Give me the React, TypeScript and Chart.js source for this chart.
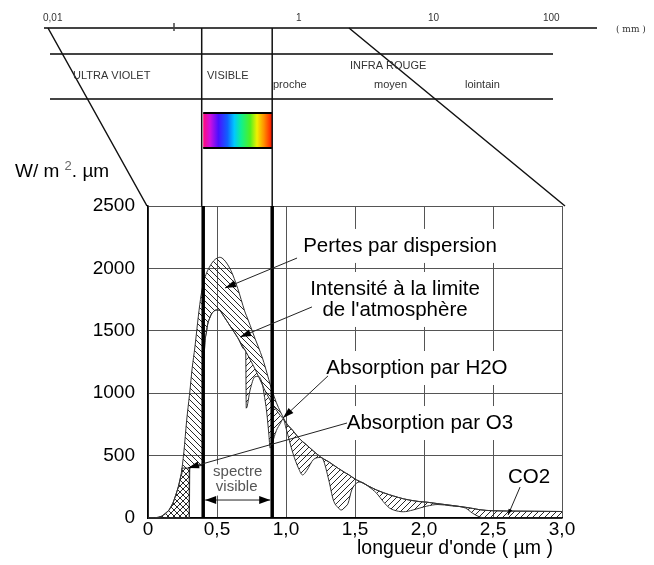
import { useEffect, useRef } from 'react';
import { Chart, registerables } from 'chart.js';

Chart.register(...registerables);

// ---- data (µm, W/m².µm) ----
const wavelengths = [0, 0.05, 0.1, 0.15, 0.18, 0.2, 0.22, 0.24, 0.26, 0.28, 0.3, 0.302, 0.32, 0.34, 0.36, 0.38, 0.395, 0.405, 0.425, 0.45, 0.475, 0.5, 0.52, 0.55, 0.6, 0.65, 0.7, 0.708, 0.712, 0.74, 0.775, 0.8, 0.83, 0.84, 0.86, 0.875, 0.885, 0.9, 0.93, 0.96, 0.98, 1.0, 1.05, 1.09, 1.12, 1.15, 1.2, 1.25, 1.27, 1.31, 1.343, 1.38, 1.4, 1.43, 1.45, 1.476, 1.51, 1.54, 1.6, 1.657, 1.705, 1.75, 1.78, 1.85, 1.92, 1.97, 2.02, 2.1, 2.2, 2.3, 2.35, 2.4, 2.45, 2.5, 2.6, 2.7, 2.8, 2.9, 3.0];

// Intensité à la limite de l'atmosphère
const extraterrestrial = [0, 0, 15, 60, 118, 180, 251, 350, 530, 780, 980, 1000, 1200, 1370, 1570, 1750, 1850, 1900, 1965, 2020, 2060, 2082, 2089, 2070, 1985, 1840, 1660, 1635, 1625, 1545, 1440, 1370, 1280, 1245, 1170, 1110, 1070, 1020, 925, 850, 805, 765, 700, 645, 612, 585, 535, 490, 475, 450, 425, 397, 383, 362, 350, 330, 306, 290, 255, 224, 203, 186, 176, 154, 139, 131, 127, 115, 101, 86, 77, 67, 61, 58, 56, 55, 54, 53, 52];

// après pertes par dispersion
const afterScattering = [0, 0, 0, 0, 0, 0, 0, 0, 0, 0, 0, 400, 405, 410, 415, 420, 430, 1200, 1500, 1610, 1655, 1667, 1662, 1615, 1530, 1445, 1350, 1335, 1328, 1270, 1195, 1135, 1065, 1040, 995, 965, 945, 915, 865, 820, 795, 760, 700, 645, 612, 585, 535, 490, 475, 450, 425, 397, 383, 362, 350, 330, 306, 290, 255, 224, 203, 186, 176, 154, 139, 131, 127, 115, 101, 86, 77, 67, 61, 58, 56, 55, 54, 53, 52];

// au niveau du sol (après absorption)
const seaLevel = [0, 0, 0, 0, 0, 0, 0, 0, 0, 0, 0, 400, 405, 410, 415, 420, 430, 1200, 1500, 1610, 1655, 1667, 1662, 1615, 1530, 1445, 1350, 1335, 880, 1026, 1132, 1135, 1065, 1000, 850, 680, 560, 600, 700, 760, 795, 720, 520, 400, 345, 380, 470, 485, 465, 304, 144, 80, 64, 90, 118, 224, 278, 288, 250, 198, 131, 80, 64, 50, 64, 80, 95, 108, 97, 80, 40, 10, 0, 0, 0, 0, 0, 0, 0];

// absorption UV par O3 (zone quadrillée)
const uvWavelengths = [0, 0.05, 0.1, 0.15, 0.18, 0.2, 0.22, 0.24, 0.246, 0.3, 0.3];
const uvAbsorption = [0, 0, 15, 60, 118, 180, 251, 350, 400, 400, 0];

const xTickLabels = ['0', '0,5', '1,0', '1,5', '2,0', '2,5', '3,0'];
const yTickLabels = ['0', '500', '1000', '1500', '2000', '2500'];
const visibleRange = [0.4, 0.9];

const topScaleLabels = ['0,01', '1', '10', '100'];
const bandNames = ['ULTRA VIOLET', 'VISIBLE', 'INFRA ROUGE'];
const irSubBands = ['proche', 'moyen', 'lointain'];

// annotation texts (position in data units)
const annotationTexts = ['Pertes par dispersion', 'Intensité à la limite', "de l'atmosphère", 'Absorption par H2O', 'Absorption par O3', 'CO2'];
const annotationX = [1.826, 1.79, 1.79, 1.949, 2.043, 2.761];
const annotationY = [2180, 1835, 1667, 1202, 761, 329];
// arrows: from (x1,y1) to (x2,y2) in data units
const arrowFrom = [[1.08, 2083], [1.188, 1691], [1.304, 1138], [1.442, 761], [2.696, 248]];
const arrowTo = [[0.558, 1843], [0.667, 1450], [0.978, 801], [0.29, 401], [2.609, 24]];

const FONT = "'Liberation Sans', Arial, sans-serif";

function makeHatch(dir: 'back' | 'fwd'): CanvasPattern {
  const s = 6;
  const c = document.createElement('canvas');
  c.width = s;
  c.height = s;
  const g = c.getContext('2d')!;
  g.strokeStyle = '#111';
  g.lineWidth = 0.9;
  g.beginPath();
  for (let k = -1; k <= 1; k++) {
    if (dir === 'back') {
      g.moveTo(k * s, 0);
      g.lineTo(k * s + s, s);
    } else {
      g.moveTo(k * s, s);
      g.lineTo(k * s + s, 0);
    }
  }
  g.stroke();
  return g.createPattern(c, 'repeat')!;
}

function drawArrowHead(ctx: CanvasRenderingContext2D, x1: number, y1: number, x2: number, y2: number, len = 10, hw = 3.5) {
  const a = Math.atan2(y2 - y1, x2 - x1);
  ctx.beginPath();
  ctx.moveTo(x2, y2);
  ctx.lineTo(x2 - len * Math.cos(a) + hw * Math.sin(a), y2 - len * Math.sin(a) - hw * Math.cos(a));
  ctx.lineTo(x2 - len * Math.cos(a) - hw * Math.sin(a), y2 - len * Math.sin(a) + hw * Math.cos(a));
  ctx.closePath();
  ctx.fill();
}

const decorPlugin = {
  id: 'decor',
  beforeDraw(chart: any) {
    const ctx = chart.ctx;
    ctx.save();
    ctx.fillStyle = '#fff';
    ctx.fillRect(0, 0, chart.width, chart.height);
    ctx.restore();
  },
  afterDatasetsDraw(chart: any) {
    const ctx: CanvasRenderingContext2D = chart.ctx;
    const xs = chart.scales.x;
    const ys = chart.scales.y;
    const area = chart.chartArea;
    const px = (v: number) => xs.getPixelForValue(v);
    const py = (v: number) => ys.getPixelForValue(v);
    ctx.save();

    // thick lines for visible spectrum
    ctx.strokeStyle = '#000';
    ctx.lineWidth = 3.5;
    for (const v of visibleRange) {
      ctx.beginPath();
      ctx.moveTo(px(v), area.top);
      ctx.lineTo(px(v), area.bottom);
      ctx.stroke();
    }

    // white boxes behind texts
    ctx.font = `20.5px ${FONT}`;
    for (let i = 0; i < annotationTexts.length; i++) {
      const w = ctx.measureText(annotationTexts[i]).width;
      ctx.fillStyle = '#fff';
      const h = i === 5 ? 24 : 34;
      ctx.fillRect(px(annotationX[i]) - w / 2 - 4, py(annotationY[i]) - h / 2, w + 8, h);
    }
    const sx = (px(visibleRange[0]) + px(visibleRange[1])) / 2;
    ctx.fillRect(sx - 26, py(430), 52, py(180) - py(430));

    // texts
    ctx.fillStyle = '#000';
    ctx.textAlign = 'center';
    ctx.textBaseline = 'middle';
    ctx.font = `20.5px ${FONT}`;
    for (let i = 0; i < annotationTexts.length; i++) {
      ctx.fillText(annotationTexts[i], px(annotationX[i]), py(annotationY[i]));
    }
    ctx.fillStyle = '#555';
    ctx.font = `15px ${FONT}`;
    ctx.fillText('spectre', sx, py(369));
    ctx.fillText('visible', sx - 1, py(248));

    // arrows
    ctx.strokeStyle = '#222';
    ctx.fillStyle = '#000';
    ctx.lineWidth = 1;
    for (let i = 0; i < arrowFrom.length; i++) {
      const x1 = px(arrowFrom[i][0]), y1 = py(arrowFrom[i][1]);
      const x2 = px(arrowTo[i][0]), y2 = py(arrowTo[i][1]);
      ctx.beginPath();
      ctx.moveTo(x1, y1);
      ctx.lineTo(x2, y2);
      ctx.stroke();
      drawArrowHead(ctx, x1, y1, x2, y2, i === 4 ? 6 : 11, i === 4 ? 2 : 3.5);
    }
    // double arrow for the visible spectrum
    const ya = py(144);
    const xa1 = px(visibleRange[0]) + 2, xa2 = px(visibleRange[1]) - 2;
    ctx.beginPath();
    ctx.moveTo(xa1, ya);
    ctx.lineTo(xa2, ya);
    ctx.stroke();
    drawArrowHead(ctx, xa2, ya, xa1, ya, 11, 4);
    drawArrowHead(ctx, xa1, ya, xa2, ya, 11, 4);

    ctx.restore();
  },
  afterDraw(chart: any) {
    const ctx: CanvasRenderingContext2D = chart.ctx;
    const xs = chart.scales.x;
    const area = chart.chartArea;
    const xv1 = xs.getPixelForValue(visibleRange[0]);
    const xv2 = xs.getPixelForValue(visibleRange[1]);
    ctx.save();

    // electromagnetic spectrum band diagram
    ctx.strokeStyle = '#444';
    ctx.lineWidth = 2;
    ctx.beginPath();
    ctx.moveTo(44, 28); ctx.lineTo(597, 28);
    ctx.moveTo(50, 54); ctx.lineTo(553, 54);
    ctx.moveTo(50, 99); ctx.lineTo(553, 99);
    ctx.stroke();
    ctx.lineWidth = 1.5;
    ctx.beginPath();
    ctx.moveTo(174, 23); ctx.lineTo(174, 31);
    ctx.stroke();

    // rainbow box
    const grad = ctx.createLinearGradient(xv1, 0, xv2, 0);
    grad.addColorStop(0, '#ff0a78');
    grad.addColorStop(0.1, '#d010e0');
    grad.addColorStop(0.22, '#4a10ff');
    grad.addColorStop(0.35, '#1060ff');
    grad.addColorStop(0.45, '#00c8ff');
    grad.addColorStop(0.55, '#10f090');
    grad.addColorStop(0.68, '#50f020');
    grad.addColorStop(0.78, '#f0f000');
    grad.addColorStop(0.88, '#ff9000');
    grad.addColorStop(1, '#ff1000');
    ctx.fillStyle = grad;
    ctx.fillRect(xv1, 113, xv2 - xv1, 35);
    ctx.strokeStyle = '#000';
    ctx.lineWidth = 2;
    ctx.beginPath();
    ctx.moveTo(xv1, 113); ctx.lineTo(xv2, 113);
    ctx.moveTo(xv1, 148); ctx.lineTo(xv2, 148);
    ctx.stroke();

    // connecting lines
    ctx.strokeStyle = '#111';
    ctx.lineWidth = 1.5;
    ctx.beginPath();
    ctx.moveTo(xv1 - 1.5, 28); ctx.lineTo(xv1 - 1.5, area.top);
    ctx.moveTo(xv2, 28); ctx.lineTo(xv2, area.top);
    ctx.moveTo(48, 28); ctx.lineTo(area.left - 1, area.top);
    ctx.moveTo(349, 28); ctx.lineTo(area.right + 3, area.top);
    ctx.stroke();

    // band texts
    ctx.fillStyle = '#333';
    ctx.textBaseline = 'middle';
    ctx.textAlign = 'left';
    ctx.font = `10px ${FONT}`;
    const topX = [43, 296, 428, 543];
    topScaleLabels.forEach((t, i) => ctx.fillText(t, topX[i], 18));
    ctx.font = `9px 'DejaVu Serif', serif`;
    ctx.fillText('( mm )', 616, 30);
    ctx.font = `11px ${FONT}`;
    const bandX = [73, 207, 350];
    const bandY = [76, 76, 66];
    bandNames.forEach((t, i) => ctx.fillText(t, bandX[i], bandY[i]));
    const subX = [273, 374, 465];
    irSubBands.forEach((t, i) => ctx.fillText(t, subX[i], 85));

    // y unit
    ctx.fillStyle = '#000';
    ctx.font = `19px ${FONT}`;
    ctx.textBaseline = 'alphabetic';
    ctx.fillText('W/ m', 15, 177);
    const w = ctx.measureText('W/ m ').width;
    ctx.fillStyle = '#666';
    ctx.font = `13px ${FONT}`;
    ctx.fillText('2', 15 + w, 170);
    const w2 = ctx.measureText('2').width;
    ctx.fillStyle = '#000';
    ctx.font = `19px ${FONT}`;
    ctx.fillText('. µm', 15 + w + w2, 177);

    // x title
    ctx.textAlign = 'center';
    ctx.textBaseline = 'middle';
    ctx.font = `19.5px ${FONT}`;
    ctx.fillText("longueur d'onde ( µm )", 455, 549);

    ctx.restore();
  },
};

export default function App() {
  const ref = useRef<HTMLCanvasElement>(null);

  useEffect(() => {
    const canvas = ref.current!;
    const back = makeHatch('back');
    const fwd = makeHatch('fwd');
    const pts = (ys: number[]) => wavelengths.map((x, i) => ({ x, y: ys[i] }));
    const lineStyle = {
      borderColor: '#333',
      borderWidth: 1,
      pointRadius: 0,
      cubicInterpolationMode: 'monotone' as const,
    };
    const chart = new Chart(canvas, {
      type: 'line',
      data: {
        datasets: [
          { ...lineStyle, label: 'Intensité à la limite', data: pts(extraterrestrial), fill: '+1', backgroundColor: back },
          { ...lineStyle, label: 'Après dispersion', data: pts(afterScattering), fill: '+1', backgroundColor: fwd },
          { ...lineStyle, label: 'Au sol', data: pts(seaLevel), fill: false },
          {
            label: 'O3',
            data: uvWavelengths.map((x, i) => ({ x, y: uvAbsorption[i] })),
            borderColor: '#333',
            borderWidth: 1,
            pointRadius: 0,
            tension: 0,
            fill: 'origin',
            backgroundColor: fwd,
          },
        ],
      },
      options: {
        responsive: false,
        animation: false,
        devicePixelRatio: 1,
        layout: { padding: { left: 0, top: 206, right: 92, bottom: 0 } },
        plugins: { legend: { display: false }, tooltip: { enabled: false } },
        scales: {
          x: {
            type: 'linear',
            min: 0,
            max: 3,
            afterFit: (s: any) => {
              s.height = 47;
              s.paddingLeft = 0;
              s.paddingRight = 0;
            },
            ticks: {
              stepSize: 0.5,
              padding: 0,
              color: '#000',
              font: { family: FONT, size: 19 },
              maxRotation: 0,
              autoSkip: false,
              callback: (_v: any, i: number) => xTickLabels[i],
            },
            grid: { color: '#555', lineWidth: 1, drawTicks: false },
            border: { color: '#000', width: 1.5 },
          },
          y: {
            min: 0,
            max: 2500,
            afterFit: (s: any) => {
              s.width = 148;
              s.paddingTop = 0;
              s.paddingBottom = 0;
            },
            ticks: {
              stepSize: 500,
              padding: 13,
              color: '#000',
              font: { family: FONT, size: 19 },
              callback: (_v: any, i: number) => yTickLabels[i],
            },
            grid: { color: '#555', lineWidth: 1, drawTicks: false },
            border: { color: '#000', width: 1.5 },
          },
        },
      },
      plugins: [decorPlugin],
    });
    return () => chart.destroy();
  }, []);

  return (
    <div style={{ position: 'fixed', left: 0, top: 0, width: 654, height: 565 }}>
      <canvas ref={ref} width={654} height={565} style={{ display: 'block' }} />
    </div>
  );
}
